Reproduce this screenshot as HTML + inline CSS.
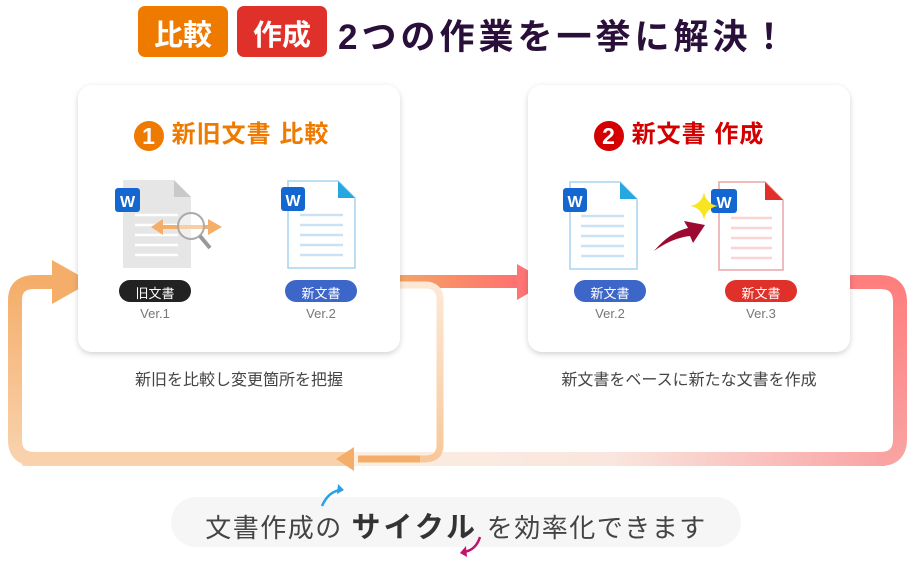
<!DOCTYPE html>
<html><head><meta charset="utf-8"><style>
body{margin:0;width:920px;height:568px;background:#fff;overflow:hidden;position:relative;font-family:"Liberation Sans","Noto Sans CJK JP",sans-serif}
.t{position:absolute;white-space:nowrap}
</style></head><body>
<svg width="920" height="568" style="position:absolute;left:0;top:0">
<defs>
<linearGradient id="bot" gradientUnits="userSpaceOnUse" x1="340" y1="0" x2="885" y2="0"><stop offset="0" stop-color="#fbeee2"/><stop offset="0.5" stop-color="#f9e6de"/><stop offset="1" stop-color="#f9a3a3"/></linearGradient>
<linearGradient id="lft" x1="0" y1="1" x2="0" y2="0"><stop offset="0" stop-color="#f9d2ad"/><stop offset="1" stop-color="#f4ae6a"/></linearGradient>
<linearGradient id="mid" x1="0" x2="1"><stop offset="0" stop-color="#f4a463"/><stop offset="1" stop-color="#ff7070"/></linearGradient>
<linearGradient id="inn" x1="0" y1="0" x2="0" y2="1"><stop offset="0" stop-color="#fde8d6"/><stop offset="1" stop-color="#f8c89a"/></linearGradient>
<linearGradient id="rv" x1="0" y1="0" x2="0" y2="1"><stop offset="0" stop-color="#ff7d7d"/><stop offset="1" stop-color="#f9a3a3"/></linearGradient>
<filter id="sh" x="-10%" y="-10%" width="120%" height="125%"><feDropShadow dx="0" dy="2" stdDeviation="3" flood-color="#000" flood-opacity="0.18"/></filter>
</defs>
<path d="M22 459 H340" stroke="#f9d9bb" stroke-width="14" fill="none"/>
<rect x="340" y="452" width="545" height="14" fill="url(#bot)"/>
<path d="M850 282 H880 Q900 282 900 302 V439 Q900 459 880 459" stroke="url(#rv)" stroke-width="14" fill="none"/>
<path d="M350 459 H35 Q15 459 15 440 V300 Q15 282 35 282 H55" stroke="url(#lft)" stroke-width="14" fill="none"/>
<polygon points="52,260 91,282 52,304" fill="#f4ae6a"/>
<rect x="398" y="275" width="122" height="13" fill="url(#mid)"/>
<polygon points="517,264 548,282 517,300" fill="#ff7575"/>
<path d="M400 285 H425 Q440 285 440 300 V445 Q440 459 425 459 H358" stroke="url(#inn)" stroke-width="7" fill="none"/>
<path d="M420 459 H358" stroke="#f4ae6a" stroke-width="7" fill="none"/>
<polygon points="336,459 354,447 354,471" fill="#f4ae6a"/>
<rect x="78" y="85" width="322" height="267" rx="14" fill="#fff" filter="url(#sh)"/>
<rect x="528" y="85" width="322" height="267" rx="14" fill="#fff" filter="url(#sh)"/>
<path d="M123 180 H174 L191 197 V268 H123 Z" fill="#e6e6e6"/>
<path d="M174 180 L191 197 H174 Z" fill="#c9c9c9"/>
<g stroke="#fff" stroke-width="2.5"><line x1="135" y1="215" x2="178" y2="215"/><line x1="135" y1="225" x2="178" y2="225"/><line x1="135" y1="235" x2="178" y2="235"/><line x1="135" y1="245" x2="178" y2="245"/><line x1="135" y1="255" x2="178" y2="255"/></g>
<line x1="160" y1="227" x2="212" y2="227" stroke="#f4ae6a" stroke-width="4"/>
<polygon points="151,227 163,219 163,235" fill="#f4ae6a"/><polygon points="222,227 208,219 208,235" fill="#f4ae6a"/>
<circle cx="191" cy="226" r="13" fill="rgba(255,255,255,0.4)" stroke="#aaa" stroke-width="2"/>
<line x1="200" y1="236" x2="210" y2="248" stroke="#999" stroke-width="4"/>
<rect x="115" y="188" width="25" height="24" rx="3" fill="#1466d0"/><text x="127.5" y="207" font-size="16" font-weight="bold" fill="#fff" text-anchor="middle">W</text>
<path d="M288 181 H338 L355 198 V268 H288 Z" fill="#fff" stroke="#a8d4f0" stroke-width="1.5"/>
<path d="M338 181 L355 198 H338 Z" fill="#25a8e0"/>
<g stroke="#c9e2f6" stroke-width="2.5"><line x1="300" y1="215" x2="343" y2="215"/><line x1="300" y1="225" x2="343" y2="225"/><line x1="300" y1="235" x2="343" y2="235"/><line x1="300" y1="245" x2="343" y2="245"/><line x1="300" y1="255" x2="343" y2="255"/></g>
<rect x="281" y="187" width="24" height="24" rx="3" fill="#1466d0"/><text x="293" y="206" font-size="16" font-weight="bold" fill="#fff" text-anchor="middle">W</text>
<path d="M570 182 H620 L637 199 V269 H570 Z" fill="#fff" stroke="#a8d4f0" stroke-width="1.5"/>
<path d="M620 182 L637 199 H620 Z" fill="#25a8e0"/>
<g stroke="#c9e2f6" stroke-width="2.5"><line x1="581" y1="216" x2="624" y2="216"/><line x1="581" y1="226" x2="624" y2="226"/><line x1="581" y1="236" x2="624" y2="236"/><line x1="581" y1="246" x2="624" y2="246"/><line x1="581" y1="256" x2="624" y2="256"/></g>
<rect x="563" y="188" width="24" height="24" rx="3" fill="#1466d0"/><text x="575" y="207" font-size="16" font-weight="bold" fill="#fff" text-anchor="middle">W</text>
<path d="M719 182 H765 L783 200 V270 H719 Z" fill="#fff" stroke="#e8a5a5" stroke-width="1.5"/>
<path d="M765 182 L783 200 H765 Z" fill="#e0302a"/>
<g stroke="#f9d4d4" stroke-width="2.5"><line x1="731" y1="218" x2="772" y2="218"/><line x1="731" y1="228" x2="772" y2="228"/><line x1="731" y1="238" x2="772" y2="238"/><line x1="731" y1="248" x2="772" y2="248"/><line x1="731" y1="258" x2="772" y2="258"/></g>
<rect x="711" y="189" width="26" height="24" rx="3" fill="#1466d0"/><text x="724" y="208" font-size="16" font-weight="bold" fill="#fff" text-anchor="middle">W</text>
<path d="M704 192 Q706 204 718 206 Q706 208 704 220 Q702 208 690 206 Q702 204 704 192 Z" fill="#f7e520"/>
<path d="M654 251 Q670 232 688 228 L684 221 L705 225 L693 243 L690 236 Q672 238 654 251 Z" fill="#9c0a32"/>
<rect x="119" y="280" width="72" height="22" rx="11" fill="#222"/>
<rect x="285" y="280" width="72" height="22" rx="11" fill="#3d66c9"/>
<rect x="574" y="280" width="72" height="22" rx="11" fill="#3d66c9"/>
<rect x="725" y="280" width="72" height="22" rx="11" fill="#e0302a"/>
<rect x="171" y="497" width="570" height="50" rx="25" fill="#f6f6f6"/>
<path d="M322 506 Q328 492 340 490" stroke="#2aa0e8" stroke-width="2.5" fill="none"/><polygon points="338,484 344,490 337,494" fill="#2aa0e8"/>
<path d="M480 537 Q476 550 464 552" stroke="#c0166e" stroke-width="2.5" fill="none"/><polygon points="466,546 460,553 467,557" fill="#c0166e"/>
<rect x="138" y="6" width="90" height="51" rx="7" fill="#ee7a00"/>
<rect x="237" y="6" width="90" height="51" rx="7" fill="#e0302a"/>
</svg>
<div class="t" style="left:138px;top:12px;width:90px;text-align:center;color:#fff;font-size:29px;font-weight:bold">比較</div>
<div class="t" style="left:237px;top:12px;width:90px;text-align:center;color:#fff;font-size:29px;font-weight:bold">作成</div>
<div class="t" style="left:338px;top:9px;color:#2a0f3a;font-size:35px;font-weight:bold;letter-spacing:4px">2つの作業を一挙に解決！</div>
<div class="t" style="left:134px;top:114px;color:#ee7a00;font-size:24px;font-weight:bold;letter-spacing:1px"><span style="display:inline-block;width:30px;height:30px;border-radius:50%;background:#ee7a00;color:#fff;text-align:center;line-height:30px;font-size:23px;vertical-align:-2px">1</span> 新旧文書 比較</div>
<div class="t" style="left:594px;top:114px;color:#d40000;font-size:24px;font-weight:bold;letter-spacing:1px"><span style="display:inline-block;width:30px;height:30px;border-radius:50%;background:#d40000;color:#fff;text-align:center;line-height:30px;font-size:23px;vertical-align:-2px">2</span> 新文書 作成</div>
<div class="t" style="left:119px;top:283px;width:72px;text-align:center;color:#fff;font-size:13px">旧文書</div>
<div class="t" style="left:285px;top:283px;width:72px;text-align:center;color:#fff;font-size:13px">新文書</div>
<div class="t" style="left:574px;top:283px;width:72px;text-align:center;color:#fff;font-size:13px">新文書</div>
<div class="t" style="left:725px;top:283px;width:72px;text-align:center;color:#fff;font-size:13px">新文書</div>
<div class="t" style="left:119px;top:306px;width:72px;text-align:center;color:#777;font-size:13px">Ver.1</div>
<div class="t" style="left:285px;top:306px;width:72px;text-align:center;color:#777;font-size:13px">Ver.2</div>
<div class="t" style="left:574px;top:306px;width:72px;text-align:center;color:#777;font-size:13px">Ver.2</div>
<div class="t" style="left:725px;top:306px;width:72px;text-align:center;color:#777;font-size:13px">Ver.3</div>
<div class="t" style="left:78px;top:366px;width:322px;text-align:center;color:#444;font-size:16px">新旧を比較し変更箇所を把握</div>
<div class="t" style="left:528px;top:366px;width:322px;text-align:center;color:#444;font-size:16px">新文書をベースに新たな文書を作成</div>
<div class="t" style="left:171px;top:504px;width:570px;text-align:center;color:#444;font-size:26px;letter-spacing:1.5px">文書作成の <b style="font-size:29px;color:#333;letter-spacing:3px">サイクル</b> を効率化できます</div>
</body></html>
